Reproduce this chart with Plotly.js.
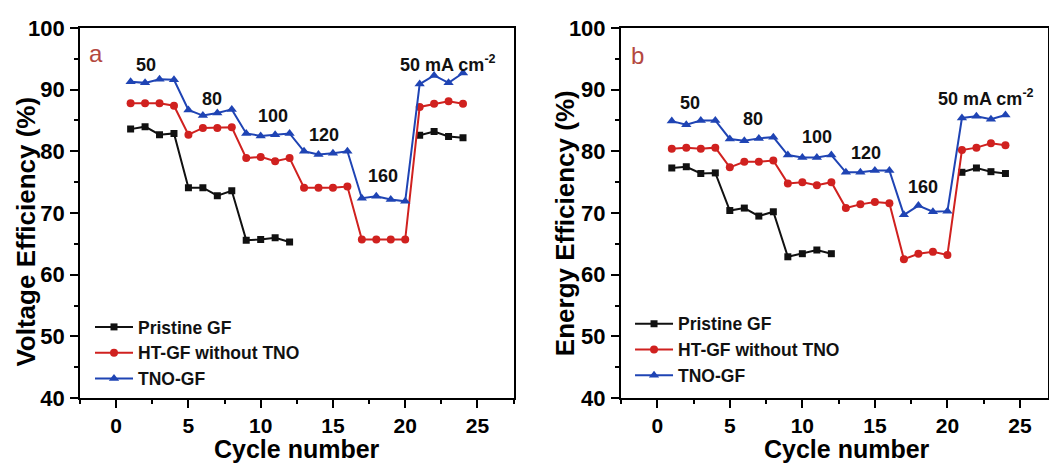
<!DOCTYPE html>
<html>
<head>
<meta charset="utf-8">
<script src="https://cdn.plot.ly/plotly-3.0.1.min.js"></script>
<style>html,body{margin:0;padding:0;background:#fff;}#chart{width:1049px;height:464px;}</style>
</head>
<body>
<div id="chart"></div>
<script>
const cycles = [1,2,3,4,5,6,7,8,9,10,11,12,13,14,15,16,17,18,19,20,21,22,23,24];
const seriesNames = ['Pristine GF', 'HT-GF without TNO', 'TNO-GF'];

// Voltage efficiency (%)
const vePristine = [83.6,84.0,82.7,82.9,74.1,74.1,72.8,73.6,65.6,65.7,66.0,65.3,null,null,null,null,null,null,null,null,82.6,83.2,82.4,82.2];
const veHT       = [87.8,87.8,87.8,87.4,82.7,83.8,83.8,83.9,78.9,79.1,78.4,78.9,74.1,74.1,74.1,74.3,65.7,65.7,65.7,65.7,87.2,87.7,88.1,87.7];
const veTNO      = [91.3,91.1,91.7,91.6,86.7,85.8,86.2,86.8,82.9,82.5,82.7,82.9,80.0,79.5,79.7,80.0,72.4,72.7,72.2,71.9,90.9,92.3,91.1,92.7];

// Energy efficiency (%)
const eePristine = [77.3,77.5,76.4,76.5,70.4,70.8,69.5,70.2,62.9,63.4,64.0,63.4,null,null,null,null,null,null,null,null,76.6,77.3,76.7,76.4];
const eeHT       = [80.4,80.6,80.4,80.6,77.4,78.3,78.3,78.5,74.8,75.0,74.5,75.0,70.8,71.4,71.8,71.6,62.5,63.4,63.7,63.2,80.2,80.6,81.3,81.0];
const eeTNO      = [84.9,84.3,85.0,85.0,82.0,81.7,82.1,82.3,79.4,79.0,79.0,79.4,76.6,76.6,76.9,76.9,69.7,71.2,70.2,70.3,85.4,85.7,85.2,85.9];

// current density labels
const currentLabels = ['50','80','100','120','160'];
const veLabelX = [2.07, 6.61, 10.83, 14.37, 18.46];
const veLabelY = [94.05, 88.54, 85.67, 82.71, 75.95];
const eeLabelX = [2.29, 6.59, 11.0, 14.41, 18.29];
const eeLabelY = [87.77, 85.18, 82.27, 79.68, 74.22];
const unitLabel = '50 mA cm<sup>-2</sup>';

const colors = ['#111111', '#d0211f', '#1f44b4'];
const symbols = ['square', 'circle', 'triangle-up'];
const sizes = [7, 8, 9];
const FONT = 'Arial, "Liberation Sans", sans-serif';

function mk(y, i, xa, ya, leg) {
  return {
    x: cycles, y: y, xaxis: xa, yaxis: ya, name: seriesNames[i],
    type: 'scatter', mode: 'lines+markers', connectgaps: false,
    line: {color: colors[i], width: 2},
    marker: {symbol: symbols[i], size: sizes[i], color: colors[i]},
    legend: leg, showlegend: true
  };
}

const data = [
  mk(vePristine, 0, 'x', 'y', 'legend'),
  mk(veHT, 1, 'x', 'y', 'legend'),
  mk(veTNO, 2, 'x', 'y', 'legend'),
  mk(eePristine, 0, 'x2', 'y2', 'legend2'),
  mk(eeHT, 1, 'x2', 'y2', 'legend2'),
  mk(eeTNO, 2, 'x2', 'y2', 'legend2')
];

function xax(domain, range, anchor) {
  return {
    domain: domain, range: range, anchor: anchor,
    tickmode: 'linear', tick0: 0, dtick: 5,
    ticks: 'outside', ticklen: 8, tickwidth: 2, tickcolor: '#000',
    minor: {dtick: 2.5, tick0: 0, ticks: 'outside', ticklen: 4, tickwidth: 2, tickcolor: '#000'},
    showline: true, linewidth: 2, linecolor: '#000', mirror: true,
    showgrid: false, zeroline: false,
    tickfont: {family: FONT, size: 21, color: '#000', weight: 'bold'},
    tickprefix: '<b>', ticksuffix: '</b>',
    ticklabelstandoff: 0
  };
}
function yax(range, anchor) {
  return {
    domain: [0.1422, 0.9397], range: range, anchor: anchor,
    tickmode: 'linear', tick0: 0, dtick: 10,
    ticks: 'outside', ticklen: 8, tickwidth: 2, tickcolor: '#000',
    minor: {dtick: 5, tick0: 0, ticks: 'outside', ticklen: 4, tickwidth: 2, tickcolor: '#000'},
    showline: true, linewidth: 2, linecolor: '#000', mirror: true,
    showgrid: false, zeroline: false,
    tickfont: {family: FONT, size: 22, color: '#000', weight: 'bold'},
    tickprefix: '<b>', ticksuffix: '</b>',
    ticklabelstandoff: 1
  };
}

const annotations = [];
function lab(text, x, y, xref, yref, opts) {
  annotations.push(Object.assign({
    text: text, x: x, y: y, xref: xref, yref: yref, showarrow: false,
    xanchor: 'center', yanchor: 'middle',
    font: {family: FONT, size: 18, color: '#111', weight: 'bold'}
  }, opts || {}));
}
currentLabels.forEach((t, i) => lab(t, veLabelX[i], veLabelY[i], 'x', 'y'));
currentLabels.forEach((t, i) => lab(t, eeLabelX[i], eeLabelY[i], 'x2', 'y2'));
lab(unitLabel, 19.5, 94.3, 'x', 'y', {xanchor: 'left'});
lab(unitLabel, 19.23, 88.8, 'x2', 'y2', {xanchor: 'left'});
lab('a', -1.4, 95.9, 'x', 'y', {font: {family: FONT, size: 24, color: '#b4483f'}});
lab('b', -1.33, 95.5, 'x2', 'y2', {font: {family: FONT, size: 24, color: '#b4483f'}});
// axis titles
lab('Voltage Efficiency (%)', 0.0248, 0.501, 'paper', 'paper', {textangle: -90, font: {family: FONT, size: 26, color: '#000', weight: 'bold'}});
lab('Energy Efficiency (%)', 0.5386, 0.519, 'paper', 'paper', {textangle: -90, font: {family: FONT, size: 26, color: '#000', weight: 'bold'}});
lab('Cycle number', 0.2836, 0.032, 'paper', 'paper', {font: {family: FONT, size: 25, color: '#000', weight: 'bold'}});
lab('Cycle number', 0.8079, 0.032, 'paper', 'paper', {font: {family: FONT, size: 25, color: '#000', weight: 'bold'}});

const legStyle = {
  xanchor: 'left', yanchor: 'top', bgcolor: 'rgba(0,0,0,0)', borderwidth: 0,
  font: {family: FONT, size: 17.5, color: '#111', weight: 'bold'},
  itemwidth: 38, tracegroupgap: 0
};

const layout = {
  width: 1049, height: 464,
  margin: {l: 0, r: 0, t: 0, b: 0},
  paper_bgcolor: '#fff', plot_bgcolor: '#fff',
  showlegend: true,
  xaxis: xax([0.0763, 0.4896], [-2.5, 27.5], 'y'),
  yaxis: yax([40, 100], 'x'),
  xaxis2: xax([0.5920, 0.999], [-2.5, 26.93], 'y2'),
  yaxis2: yax([40, 100], 'x2'),
  legend: Object.assign({x: 0.0858, y: 0.334}, legStyle),
  legend2: Object.assign({x: 0.6006, y: 0.341}, legStyle),
  annotations: annotations
};

Plotly.newPlot('chart', data, layout, {displayModeBar: false, staticPlot: true});
</script>
</body>
</html>
